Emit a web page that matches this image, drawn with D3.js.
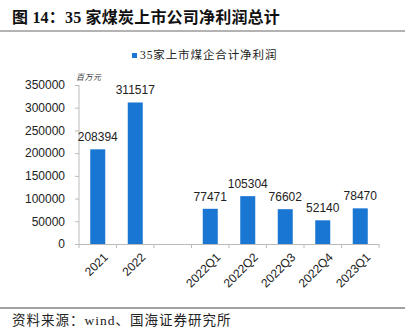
<!DOCTYPE html>
<html><head><meta charset="utf-8">
<script src="https://cdn.jsdelivr.net/npm/d3@7"></script>
<style>
body{margin:0;background:#fff;}
svg{display:block;}
</style></head>
<body><svg id="c" width="414" height="334"></svg>
<script>
const categories = ["2021","2022","","2022Q1","2022Q2","2022Q3","2022Q4","2023Q1"];
const values = [208394, 311517, null, 77471, 105304, 76602, 52140, 78470];
const yTicks = [0,50000,100000,150000,200000,250000,300000,350000];
const seriesName = "35家上市煤企合计净利润";
const unitLabel = "百万元";
const titleText = "图 14：35 家煤炭上市公司净利润总计";
const sourceText = "资料来源：wind、国海证券研究所";

const svg = d3.select("#c");
const serif = "'Liberation Serif','Noto Sans CJK SC',serif";
const sans = "'Liberation Sans',Arial,sans-serif";
const cjk = "'Liberation Serif','Noto Sans CJK SC',sans-serif";
const barColor = "#1976d2";

// title
svg.append("text").attr("x",12).attr("y",23).attr("font-family",serif).attr("font-weight","bold")
  .attr("font-size",16).attr("letter-spacing",0.2).attr("fill","#111").text(titleText);
svg.append("line").attr("x1",0).attr("x2",405).attr("y1",31).attr("y2",31).attr("stroke","#9a9a9a").attr("stroke-width",1.5);

// legend
svg.append("rect").attr("x",132).attr("y",53).attr("width",5).attr("height",5).attr("fill",barColor);
svg.append("text").attr("x",140).attr("y",59).attr("font-family",cjk).attr("font-size",11.5).attr("letter-spacing",0.9).attr("fill","#222").text(seriesName);

const x = d3.scaleBand().domain(categories).range([79,379]).padding(0);
const y = d3.scaleLinear().domain([0,350000]).range([244,85]);

// y axis
const gy = svg.append("g").attr("transform","translate(79,0)")
  .call(d3.axisLeft(y).tickValues(yTicks).tickSize(4).tickPadding(10).tickFormat(d3.format("d")));
gy.selectAll("text").attr("font-family",sans).attr("font-size",12).attr("fill","#222");
gy.selectAll("line").attr("stroke","#bbb");
gy.select(".domain").attr("stroke","#bbb").attr("d","M0,244V85");

// unit
svg.append("text").attr("x",76).attr("y",80).attr("font-family",cjk).attr("font-size",8).attr("font-style","italic")
  .attr("letter-spacing",0.5).attr("fill","#333").text(unitLabel);

// bars
const bw = x.bandwidth()*0.4;
const data = categories.map((c,i)=>({c, v: values[i]})).filter(d=>d.v!=null);
svg.append("g").selectAll("rect").data(data).join("rect")
  .attr("x",d=>x(d.c)+x.bandwidth()/2-bw/2).attr("width",bw)
  .attr("y",d=>y(d.v)).attr("height",d=>y(0)-y(d.v)).attr("fill",barColor);
svg.append("g").selectAll("text").data(data).join("text")
  .attr("x",d=>x(d.c)+x.bandwidth()/2).attr("y",d=>y(d.v)-8)
  .attr("text-anchor","middle").attr("font-family",sans).attr("font-size",12).attr("fill","#222")
  .text(d=>d.v);

// x axis
svg.append("line").attr("x1",76).attr("x2",379).attr("y1",244.5).attr("y2",244.5).attr("stroke","#bbb");
const bounds = categories.map(c=>x(c)).concat([x(categories[categories.length-1])+x.bandwidth()]);
svg.append("g").selectAll("line").data(bounds).join("line")
  .attr("x1",d=>d).attr("x2",d=>d).attr("y1",244).attr("y2",248).attr("stroke","#bbb");
svg.append("g").selectAll("text").data(categories.filter(c=>c!=="")).join("text")
  .attr("transform",c=>`translate(${x(c)+x.bandwidth()/2+5},${252}) rotate(-45)`)
  .attr("text-anchor","end").attr("dy","0.7em").attr("font-family",sans).attr("font-size",12).attr("fill","#222")
  .text(c=>c);

// source
svg.append("line").attr("x1",0).attr("x2",405).attr("y1",308).attr("y2",308).attr("stroke","#444").attr("stroke-width",1);
svg.append("text").attr("x",12).attr("y",325).attr("font-family",serif).attr("font-size",13.5).attr("letter-spacing",1).attr("fill","#222").text(sourceText);
</script></body></html>
